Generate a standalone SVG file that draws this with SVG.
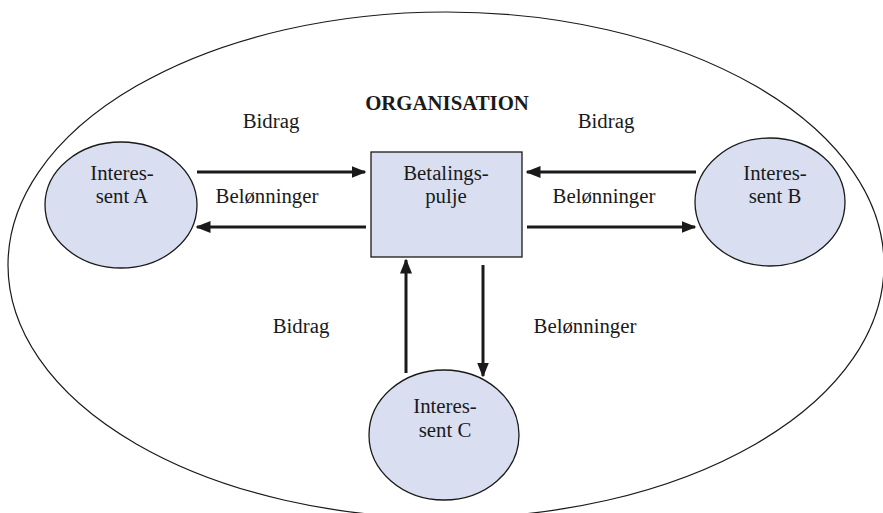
<svg xmlns="http://www.w3.org/2000/svg" width="883" height="513" viewBox="0 0 883 513">
<style>
text{font-size:20.8px;fill:#1a1a1a;text-anchor:middle}
.bold{font-weight:bold}
.node{fill:#d9dff0;stroke:#1a1a1a;stroke-width:1.3}
.arr{stroke:#1a1a1a;stroke-width:3;fill:none;marker-end:url(#ah)}
</style>
<defs>
<marker id="ah" markerWidth="5" markerHeight="4" refX="4.5" refY="2" orient="auto" markerUnits="strokeWidth">
<path d="M0,0 L5,2 L0,4 z" fill="#1a1a1a"/>
</marker>
</defs>
<rect width="883" height="513" fill="#fff"/>
<g font-family="Liberation Serif, DejaVu Serif, serif">
<g id="organisation">
<ellipse cx="446" cy="265" rx="438" ry="253" fill="none" stroke="#1a1a1a" stroke-width="1.2"/>
<text class="bold" x="447" y="110">ORGANISATION</text>
</g>
<g id="connectors">
<line class="arr" x1="197" y1="172" x2="365" y2="172"/>
<line class="arr" x1="366" y1="227" x2="197" y2="227"/>
<line class="arr" x1="696" y1="172" x2="527" y2="172"/>
<line class="arr" x1="527" y1="227" x2="695" y2="227"/>
<line class="arr" x1="406" y1="373" x2="406" y2="260"/>
<line class="arr" x1="483" y1="265" x2="483" y2="376"/>
<text x="271" y="128">Bidrag</text>
<text x="606" y="128">Bidrag</text>
<text x="267" y="203">Belønninger</text>
<text x="604" y="203">Belønninger</text>
<text x="301" y="333">Bidrag</text>
<text x="585" y="333">Belønninger</text>
</g>
<g id="interessent-a">
<ellipse class="node" cx="121" cy="205" rx="76" ry="63"/>
<text x="122" y="180">Interes-</text>
<text x="122" y="203">sent A</text>
</g>
<g id="interessent-b">
<ellipse class="node" cx="770" cy="202" rx="75" ry="64"/>
<text x="775" y="180">Interes-</text>
<text x="775" y="203">sent B</text>
</g>
<g id="interessent-c">
<ellipse class="node" cx="444" cy="435" rx="75" ry="65"/>
<text x="445" y="413">Interes-</text>
<text x="445" y="437">sent C</text>
</g>
<g id="betalingspulje">
<rect class="node" x="371" y="152" width="151" height="105" stroke="#333"/>
<text x="446" y="180">Betalings-</text>
<text x="446" y="203">pulje</text>
</g>
</g>
</svg>
